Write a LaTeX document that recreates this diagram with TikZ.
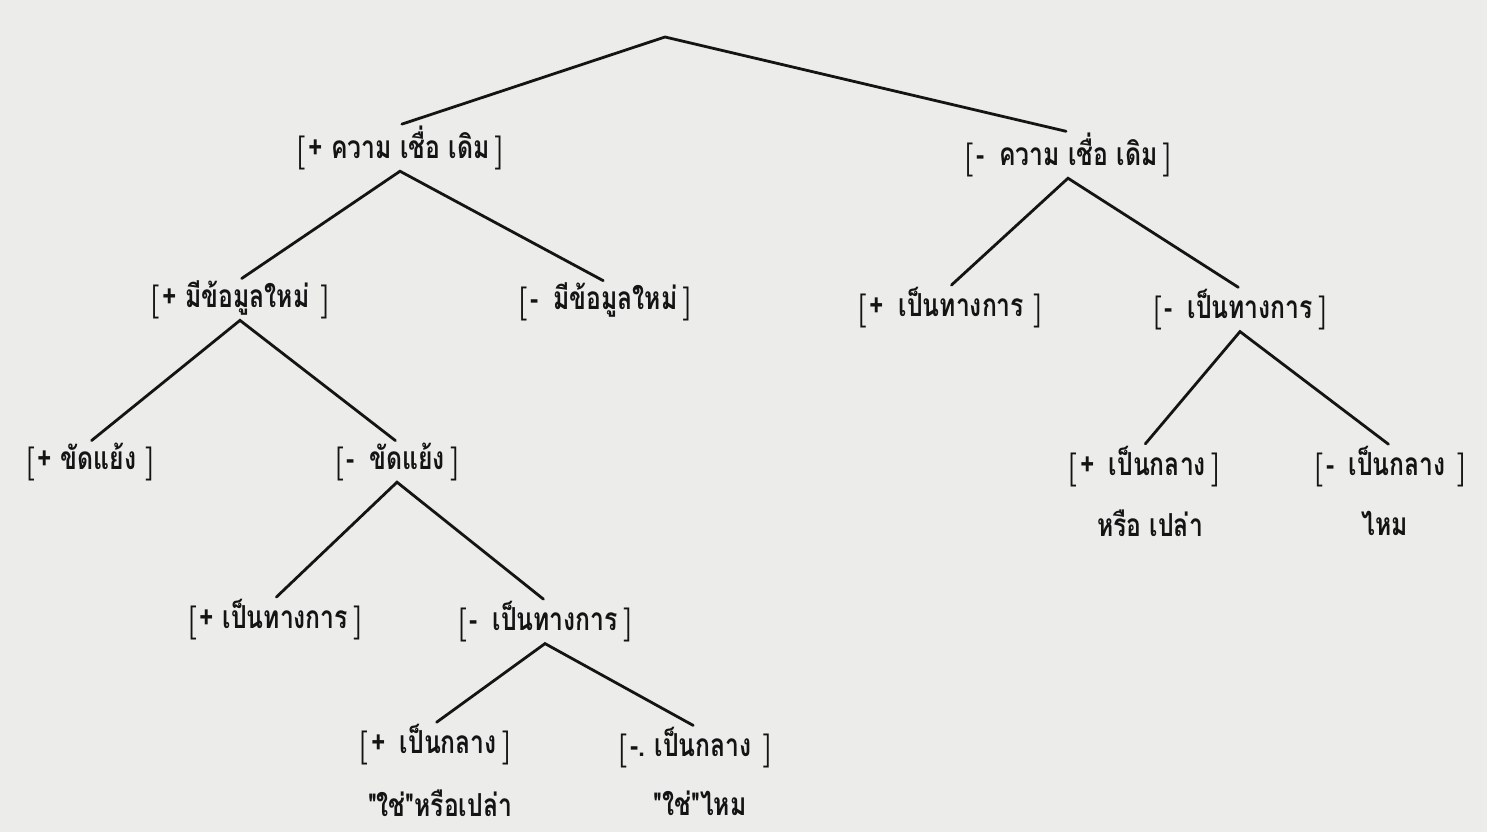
\documentclass[tikz,border=0pt]{standalone}
\usepackage{fontspec}
\newfontfamily\thaifont[Script=Thai]{Loma}
\definecolor{paper}{RGB}{236,236,234}
\definecolor{ink}{RGB}{20,20,20}
\newcommand{\lbk}{{\rmfamily\bfseries\fontsize{34}{34}\selectfont\raisebox{-3pt}{[}}\hspace{3pt}}
\newcommand{\rbk}{\hspace{5pt}{\rmfamily\bfseries\fontsize{34}{34}\selectfont\raisebox{-3pt}{]}}}
\newcommand{\tx}[1]{\scalebox{1.03}[1.32]{\thaifont\bfseries #1}}
\begin{document}
\begin{tikzpicture}[x=1pt,y=-1pt,
  feat/.style={font=\fontsize{24}{28}\selectfont, text=ink, inner sep=1pt, anchor=center},
  gloss/.style={font=\fontsize{24}{28}\selectfont, text=ink, inner sep=0pt, anchor=center},
  branch/.style={draw=ink, line width=2.8pt, line cap=round, shorten <=2pt, shorten >=2pt}]
\fill[paper] (0,0) rectangle (1487,832);
\useasboundingbox (0,0) rectangle (1487,832);

\coordinate (root) at (665,37);

\node[feat] (A) at (400,148) {\lbk\tx{+ ความ เชื่อ เดิม}\rbk};
\node[feat] (B) at (1068,155) {\lbk\tx{-\hspace{14pt}ความ เชื่อ เดิม}\rbk};

\node[feat] (C) at (240,300) {\lbk\tx{+ มีข้อมูลใหม่}\hspace{6pt}\rbk};
\node[feat] (D) at (605,302) {\lbk\tx{-\hspace{14pt}มีข้อมูลใหม่}\rbk};
\node[feat] (E) at (950,308) {\lbk\tx{+\hspace{14pt}เป็นทางการ}\hspace{4pt}\rbk};
\node[feat] (F) at (1240,310) {\lbk\tx{-\hspace{14pt}เป็นทางการ}\rbk};

\node[feat] (I) at (90,462) {\lbk\tx{+ ขัดแย้ง}\hspace{4pt}\rbk};
\node[feat] (J) at (397,462) {\lbk\tx{-\hspace{14pt}ขัดแย้ง}\rbk};

\node[feat] (G) at (1144,467) {\lbk\tx{+\hspace{14pt}เป็นกลาง}\rbk};
\node[feat] (H) at (1390,467) {\lbk\tx{-\hspace{14pt}เป็นกลาง}\hspace{6pt}\rbk};
\node[gloss] (g1) at (1150,523) {\tx{หรือ เปล่า}};
\node[gloss] (g2) at (1385,523) {\tx{ไหม}};

\node[feat] (K) at (275,620) {\lbk\tx{+ เป็นทางการ}\rbk};
\node[feat] (L) at (545,622) {\lbk\tx{-\hspace{14pt}เป็นทางการ}\rbk};

\node[feat] (M) at (435,745) {\lbk\tx{+\hspace{14pt}เป็นกลาง}\rbk};
\node[feat] (N) at (695,748) {\lbk\tx{-.\hspace{9pt}เป็นกลาง}\hspace{6pt}\rbk};
\node[gloss] (g3) at (440,803) {\tx{"ใช่"หรือเปล่า}};
\node[gloss] (g4) at (700,803) {\tx{"ใช่"ไหม}};

\draw[branch] (A.north) -- (root) -- (B.north);
\draw[branch] (C.north) -- (A.south) -- (D.north);
\draw[branch] (E.north) -- (B.south) -- (F.north);
\draw[branch] (I.north) -- (C.south) -- (J.north);
\draw[branch] (G.north) -- (F.south) -- (H.north);
\draw[branch] (K.north) -- (J.south) -- (L.north);
\draw[branch] (M.north) -- (L.south) -- (N.north);
\end{tikzpicture}
\end{document}
